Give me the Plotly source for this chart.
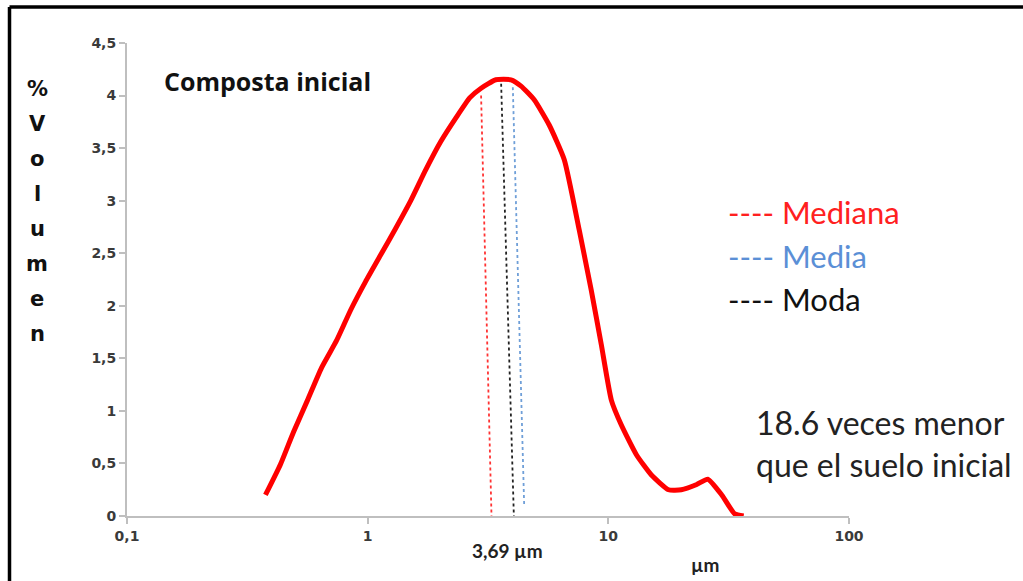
import plotly.graph_objects as go

# Particle size distribution data (µm, % volume)
size_um = [0.376, 0.434, 0.492, 0.562, 0.643, 0.743, 0.85, 0.98, 1.13, 1.31, 1.51, 1.74,
           2.01, 2.33, 2.66, 2.96, 3.41, 3.94, 4.34, 4.92, 5.68, 6.56, 7.57, 8.49, 9.35,
           10.3, 11.3, 13.1, 15.1, 17.8, 20.1, 23.3, 25.9, 29.6, 33.5, 36.5]
volume_pct = [0.2, 0.49, 0.8, 1.1, 1.41, 1.67, 1.96, 2.23, 2.48, 2.74, 3.0, 3.29,
              3.56, 3.79, 3.98, 4.07, 4.15, 4.15, 4.09, 3.96, 3.72, 3.39, 2.72, 2.15, 1.63,
              1.10, 0.87, 0.58, 0.39, 0.25, 0.25, 0.30, 0.35, 0.2, 0.02, 0.0]

# Reference lines (top, bottom) as drawn
mediana_x = [2.96, 3.27]
mediana_y = [4.0, 0.0]
media_x = [4.01, 4.47]
media_y = [4.08, 0.1]
moda_x = [3.58, 4.05]
moda_y = [4.17, 0.0]

x_tickvals = [0.1, 1, 10, 100]
x_ticktext = ["0,1", "1", "10", "100"]
y_tickvals = [0, 0.5, 1, 1.5, 2, 2.5, 3, 3.5, 4, 4.5]
y_ticktext = ["0", "0,5", "1", "1,5", "2", "2,5", "3", "3,5", "4", "4,5"]
ylabel_letters = ["%", "V", "o", "l", "u", "m", "e", "n"]

FONT = "Lato"
TICKFONT = "DejaVu Sans"

fig = go.Figure()
fig.add_trace(go.Scatter(x=mediana_x, y=mediana_y, mode="lines",
                         line=dict(color="#ff3333", width=1.8, dash="dot"), hoverinfo="skip"))
fig.add_trace(go.Scatter(x=moda_x, y=moda_y, mode="lines",
                         line=dict(color="#222222", width=1.8, dash="dot"), hoverinfo="skip"))
fig.add_trace(go.Scatter(x=media_x, y=media_y, mode="lines",
                         line=dict(color="#6f9fd8", width=1.8, dash="dot"), hoverinfo="skip"))
fig.add_trace(go.Scatter(x=size_um, y=volume_pct, mode="lines",
                         line=dict(color="#ff0000", width=5, shape="spline", smoothing=0.5)))

W, H = 1023, 581
L, R, T, B = 127, 849, 43, 516


def px2paper_x(px):
    return (px - L) / (R - L)


def px2paper_y(py):
    return (B - py) / (B - T)


annotations = []
# Title
annotations.append(dict(x=px2paper_x(162), y=px2paper_y(81), xref="paper", yref="paper",
                        text="<b>Composta inicial</b>", showarrow=False, xanchor="left", yanchor="middle",
                        font=dict(family="Open Sans", size=25, color="#111111")))
# Legend-like text
legend_items = [("---- Mediana", "#ff2020", 212), ("---- Media", "#5b8fd6", 256), ("---- Moda", "#111111", 299)]
for txt, col, py in legend_items:
    annotations.append(dict(x=px2paper_x(726), y=px2paper_y(py), xref="paper", yref="paper",
                            text=txt, showarrow=False, xanchor="left", yanchor="middle",
                            font=dict(family=FONT, size=31, color=col)))
# Comparison note
annotations.append(dict(x=px2paper_x(754), y=px2paper_y(422), xref="paper", yref="paper",
                        text="18.6 veces menor", showarrow=False, xanchor="left", yanchor="middle",
                        font=dict(family=FONT, size=32, color="#222222")))
annotations.append(dict(x=px2paper_x(754), y=px2paper_y(464), xref="paper", yref="paper",
                        text="que el suelo inicial", showarrow=False, xanchor="left", yanchor="middle",
                        font=dict(family=FONT, size=32, color="#222222")))
# Axis labels
annotations.append(dict(x=px2paper_x(507), y=px2paper_y(550), xref="paper", yref="paper",
                        text="<b>3,69 µm</b>", showarrow=False, xanchor="center", yanchor="middle",
                        font=dict(family=FONT, size=19, color="#222222")))
annotations.append(dict(x=px2paper_x(705), y=px2paper_y(564), xref="paper", yref="paper",
                        text="<b>µm</b>", showarrow=False, xanchor="center", yanchor="middle",
                        font=dict(family=FONT, size=19, color="#222222")))
for i, ch in enumerate(ylabel_letters):
    annotations.append(dict(x=px2paper_x(37), y=px2paper_y(89 + i * 35), xref="paper", yref="paper",
                            text="<b>%s</b>" % ch, showarrow=False, xanchor="center", yanchor="middle",
                            font=dict(family="DejaVu Sans", size=21, color="#111111")))

shapes = [
    dict(type="line", xref="paper", yref="paper", x0=px2paper_x(9.5), x1=px2paper_x(1030),
         y0=px2paper_y(7), y1=px2paper_y(7), line=dict(color="black", width=3.5)),
    dict(type="line", xref="paper", yref="paper", x0=px2paper_x(9.5), x1=px2paper_x(9.5),
         y0=px2paper_y(7), y1=px2paper_y(590), line=dict(color="black", width=3.5)),
]

fig.update_layout(
    width=W, height=H,
    margin=dict(l=L, r=W - R, t=T, b=H - B),
    paper_bgcolor="white", plot_bgcolor="white",
    showlegend=False,
    annotations=annotations,
    shapes=shapes,
    xaxis=dict(type="log", range=[-1, 2], tickvals=x_tickvals, ticktext=x_ticktext,
               showgrid=False, zeroline=False, showline=True, linecolor="#bfbfbf", linewidth=2,
               ticks="outside", ticklen=6, tickcolor="#bfbfbf", tickwidth=1.5,
               tickfont=dict(family=TICKFONT, size=14, color="#3a3a3a", weight="bold")),
    yaxis=dict(range=[0, 4.5], tickvals=y_tickvals, ticktext=y_ticktext,
               showgrid=False, zeroline=False, showline=True, linecolor="#bfbfbf", linewidth=2,
               ticks="outside", ticklen=6, tickcolor="#bfbfbf", tickwidth=1.5,
               tickfont=dict(family=TICKFONT, size=14, color="#3a3a3a", weight="bold")),
)

fig.write_html("out.html", config={"displayModeBar": False},
               post_script="document.body.style.margin='0';document.body.style.overflow='hidden';")
